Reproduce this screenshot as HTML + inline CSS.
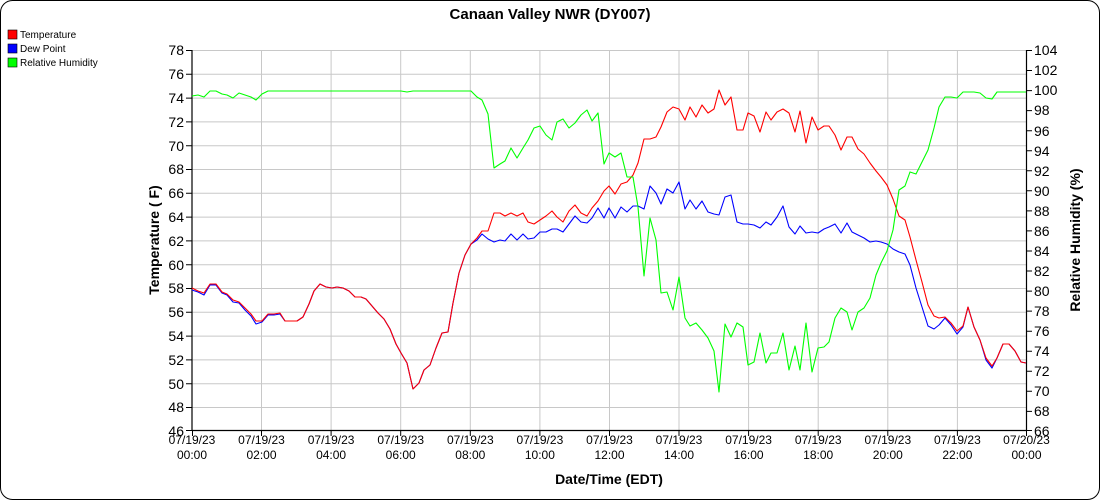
<!DOCTYPE html>
<html><head><meta charset="utf-8"><style>
html,body{margin:0;padding:0;background:#fff;}
svg{display:block;font-family:"Liberation Sans",Arial,sans-serif;}
</style></head><body>
<svg width="1100" height="500" viewBox="0 0 1100 500" xmlns="http://www.w3.org/2000/svg">
<rect x="0.5" y="0.5" width="1099" height="499" rx="12" ry="12" fill="#fff" stroke="#000" stroke-width="1"/>
<text x="550" y="19" text-anchor="middle" font-size="15" font-weight="bold">Canaan Valley NWR (DY007)</text>
<rect x="8" y="30" width="9" height="9" fill="#f00" stroke="#000" stroke-width="0.6"/>
<text x="20" y="38" font-size="10">Temperature</text>
<rect x="8" y="44" width="9" height="9" fill="#00f" stroke="#000" stroke-width="0.6"/>
<text x="20" y="52" font-size="10">Dew Point</text>
<rect x="8" y="58" width="9" height="9" fill="#0f0" stroke="#000" stroke-width="0.6"/>
<text x="20" y="66" font-size="10">Relative Humidity</text>
<g stroke="#c8c8c8" stroke-width="1">
<line x1="192" y1="50.5" x2="1026" y2="50.5"/><line x1="192" y1="74.3" x2="1026" y2="74.3"/><line x1="192" y1="98.1" x2="1026" y2="98.1"/><line x1="192" y1="121.9" x2="1026" y2="121.9"/><line x1="192" y1="145.7" x2="1026" y2="145.7"/><line x1="192" y1="169.5" x2="1026" y2="169.5"/><line x1="192" y1="193.3" x2="1026" y2="193.3"/><line x1="192" y1="217.1" x2="1026" y2="217.1"/><line x1="192" y1="240.9" x2="1026" y2="240.9"/><line x1="192" y1="264.7" x2="1026" y2="264.7"/><line x1="192" y1="288.5" x2="1026" y2="288.5"/><line x1="192" y1="312.3" x2="1026" y2="312.3"/><line x1="192" y1="336.1" x2="1026" y2="336.1"/><line x1="192" y1="359.9" x2="1026" y2="359.9"/><line x1="192" y1="383.7" x2="1026" y2="383.7"/><line x1="192" y1="407.5" x2="1026" y2="407.5"/>
<line x1="261.5" y1="50" x2="261.5" y2="430"/><line x1="331.1" y1="50" x2="331.1" y2="430"/><line x1="400.7" y1="50" x2="400.7" y2="430"/><line x1="470.3" y1="50" x2="470.3" y2="430"/><line x1="539.9" y1="50" x2="539.9" y2="430"/><line x1="609.5" y1="50" x2="609.5" y2="430"/><line x1="679" y1="50" x2="679" y2="430"/><line x1="748.6" y1="50" x2="748.6" y2="430"/><line x1="818.2" y1="50" x2="818.2" y2="430"/><line x1="887.8" y1="50" x2="887.8" y2="430"/><line x1="957.4" y1="50" x2="957.4" y2="430"/>
</g>
<g stroke="#000" stroke-width="1.2" fill="none">
<line x1="192" y1="50" x2="192" y2="431"/><line x1="1026.5" y1="50" x2="1026.5" y2="431"/><line x1="192" y1="430.5" x2="1026.5" y2="430.5"/>
</g>
<g stroke="#000" stroke-width="1">
<path d="M186 50.5h6M186 74.3h6M186 98.1h6M186 121.9h6M186 145.7h6M186 169.5h6M186 193.3h6M186 217.1h6M186 240.9h6M186 264.7h6M186 288.5h6M186 312.3h6M186 336.1h6M186 359.9h6M186 383.7h6M186 407.5h6M186 430.5h6"/>
<path d="M1026 50.5h6M1026 70.5h6M1026 90.6h6M1026 110.6h6M1026 130.7h6M1026 150.7h6M1026 170.8h6M1026 190.8h6M1026 210.9h6M1026 230.9h6M1026 251h6M1026 271h6M1026 291.1h6M1026 311.1h6M1026 331.2h6M1026 351.2h6M1026 371.3h6M1026 391.3h6M1026 411.4h6M1026 430.5h6"/>
<path d="M192.5 430v6M261.5 430v6M331.1 430v6M400.7 430v6M470.3 430v6M539.9 430v6M609.5 430v6M679 430v6M748.6 430v6M818.2 430v6M887.8 430v6M957.4 430v6M1026.5 430v6"/>
</g>
<g font-size="14" text-anchor="end">
<text x="184" y="55">78</text><text x="184" y="79">76</text><text x="184" y="103">74</text><text x="184" y="127">72</text><text x="184" y="151">70</text><text x="184" y="174">68</text><text x="184" y="198">66</text><text x="184" y="222">64</text><text x="184" y="246">62</text><text x="184" y="270">60</text><text x="184" y="293">58</text><text x="184" y="317">56</text><text x="184" y="341">54</text><text x="184" y="365">52</text><text x="184" y="389">50</text><text x="184" y="412">48</text><text x="184" y="436">46</text>
</g>
<g font-size="14">
<text x="1034" y="55">104</text><text x="1034" y="75">102</text><text x="1034" y="95">100</text><text x="1034" y="115">98</text><text x="1034" y="136">96</text><text x="1034" y="156">94</text><text x="1034" y="176">92</text><text x="1034" y="196">90</text><text x="1034" y="216">88</text><text x="1034" y="236">86</text><text x="1034" y="256">84</text><text x="1034" y="276">82</text><text x="1034" y="296">80</text><text x="1034" y="316">78</text><text x="1034" y="336">76</text><text x="1034" y="356">74</text><text x="1034" y="376">72</text><text x="1034" y="396">70</text><text x="1034" y="416">68</text><text x="1034" y="436">66</text>
</g>
<g font-size="12" text-anchor="middle">
<text x="192" y="444">07/19/23</text><text x="192" y="459">00:00</text>
<text x="261.5" y="444">07/19/23</text><text x="261.5" y="459">02:00</text>
<text x="331.1" y="444">07/19/23</text><text x="331.1" y="459">04:00</text>
<text x="400.7" y="444">07/19/23</text><text x="400.7" y="459">06:00</text>
<text x="470.3" y="444">07/19/23</text><text x="470.3" y="459">08:00</text>
<text x="539.9" y="444">07/19/23</text><text x="539.9" y="459">10:00</text>
<text x="609.5" y="444">07/19/23</text><text x="609.5" y="459">12:00</text>
<text x="679" y="444">07/19/23</text><text x="679" y="459">14:00</text>
<text x="748.6" y="444">07/19/23</text><text x="748.6" y="459">16:00</text>
<text x="818.2" y="444">07/19/23</text><text x="818.2" y="459">18:00</text>
<text x="887.8" y="444">07/19/23</text><text x="887.8" y="459">20:00</text>
<text x="957.4" y="444">07/19/23</text><text x="957.4" y="459">22:00</text>
<text x="1026.5" y="444">07/20/23</text><text x="1026.5" y="459">00:00</text>
</g>
<text x="609" y="484" text-anchor="middle" font-size="14" font-weight="bold">Date/Time (EDT)</text>
<text transform="translate(159,240) rotate(-90)" text-anchor="middle" font-size="14" font-weight="bold">Temperature ( F)</text>
<text transform="translate(1080,240) rotate(-90)" text-anchor="middle" font-size="14" font-weight="bold">Relative Humidity (%)</text>
<g fill="none" stroke-width="1.1" stroke-linejoin="round">
<polyline stroke="#00f" points="192,290 198,292 204,295 210,285 216,285 222,293 227,295 233,302 239,303 245,310 251,316 256,324 262,322 268,315 274,315 280,314 285,321 291,321 297,321 303,317 309,304 314,291 320,284 326,287 332,288 337,287 343,288 349,291 355,297 361,297 366,299 372,306 378,313 384,319 390,329 396,344 401,353 407,363 413,389 419,383 424,370 430,365 436,348 442,333 448,332 453,303 459,273 465,255 471,244 477,240 482,234 488,239 494,242 500,240 505,241 511,234 517,240 523,234 528,239 534,238 540,232 546,232 552,229 557,229 563,232 569,224 575,216 581,222 587,223 592,218 598,208 604,218 609,208 615,218 621,207 627,212 633,206 638,206 644,209 650,186 656,193 661,204 667,189 673,193 679,182 685,209 690,200 696,209 702,201 708,212 714,214 719,215 725,197 731,195 737,222 743,224 748,224 754,225 760,228 766,222 771,225 777,217 783,206 789,227 795,234 800,226 806,233 812,232 818,233 824,229 829,227 835,224 841,233 847,223 852,232 858,235 864,238 870,242 876,241 881,242 887,244 893,249 899,252 905,254 910,265 916,288 922,307 928,326 934,329 939,325 945,318 951,325 957,334 963,327 968,307 974,327 980,340 986,360 992,368 997,358 1003,344 1009,344 1015,351 1021,362 1026,363"/>
<polyline stroke="#f00" points="192,288 198,291 204,293 210,284 216,284 222,292 227,294 233,300 239,302 245,308 251,314 256,321 262,321 268,314 274,314 280,313 285,321 291,321 297,321 303,317 309,304 314,291 320,284 326,287 332,288 337,287 343,288 349,291 355,297 361,297 366,299 372,306 378,313 384,319 390,329 396,344 401,353 407,363 413,389 419,383 424,370 430,365 436,348 442,333 448,332 453,303 459,273 465,255 471,244 477,238 482,231 488,231 494,213 500,213 505,216 511,213 517,216 523,213 528,222 534,224 540,220 546,216 552,211 557,217 563,222 569,211 575,205 581,213 587,216 592,208 598,201 604,191 609,186 615,194 621,184 627,182 633,175 638,163 644,139 650,139 656,137 661,127 667,112 673,107 679,109 685,120 690,107 696,117 702,105 708,113 714,109 719,90 725,105 731,97 737,130 743,130 748,113 754,116 760,132 766,112 771,120 777,112 783,109 789,113 795,132 800,111 806,143 812,117 818,130 824,126 829,126 835,135 841,150 847,137 852,137 858,149 864,154 870,163 876,171 881,177 887,185 893,199 899,216 905,220 910,237 916,260 922,282 928,305 934,316 939,318 945,317 951,323 957,331 963,326 968,307 974,327 980,340 986,358 992,366 997,358 1003,344 1009,344 1015,351 1021,362 1026,363"/>
<polyline stroke="#0f0" points="192,96 198,95 204,97 210,91 216,91 222,94 227,95 233,98 239,93 245,95 251,97 256,100 262,94 268,91 401,91 407,92 413,91 471,91 477,97 482,100 488,114 494,168 500,164 505,161 511,148 517,158 523,148 528,140 534,128 540,126 546,135 552,140 557,122 563,119 569,128 575,123 581,115 587,110 592,121 598,113 604,164 609,153 615,157 621,153 627,177 633,177 638,207 644,276 650,218 656,240 661,293 667,292 673,310 679,277 685,318 690,326 696,323 702,330 708,338 714,351 719,392 725,324 731,337 737,323 743,327 748,365 754,362 760,333 766,363 771,353 777,353 783,333 789,370 795,346 800,370 806,323 812,372 818,348 824,347 829,342 835,318 841,308 847,312 852,330 858,312 864,308 870,298 876,275 881,263 887,251 893,230 899,190 905,186 910,172 916,174 922,162 928,150 934,128 939,107 945,97 951,97 957,98 963,92 968,92 974,92 980,93 986,98 992,99 997,92 1026,92"/>
</g>
</svg>
</body></html>
